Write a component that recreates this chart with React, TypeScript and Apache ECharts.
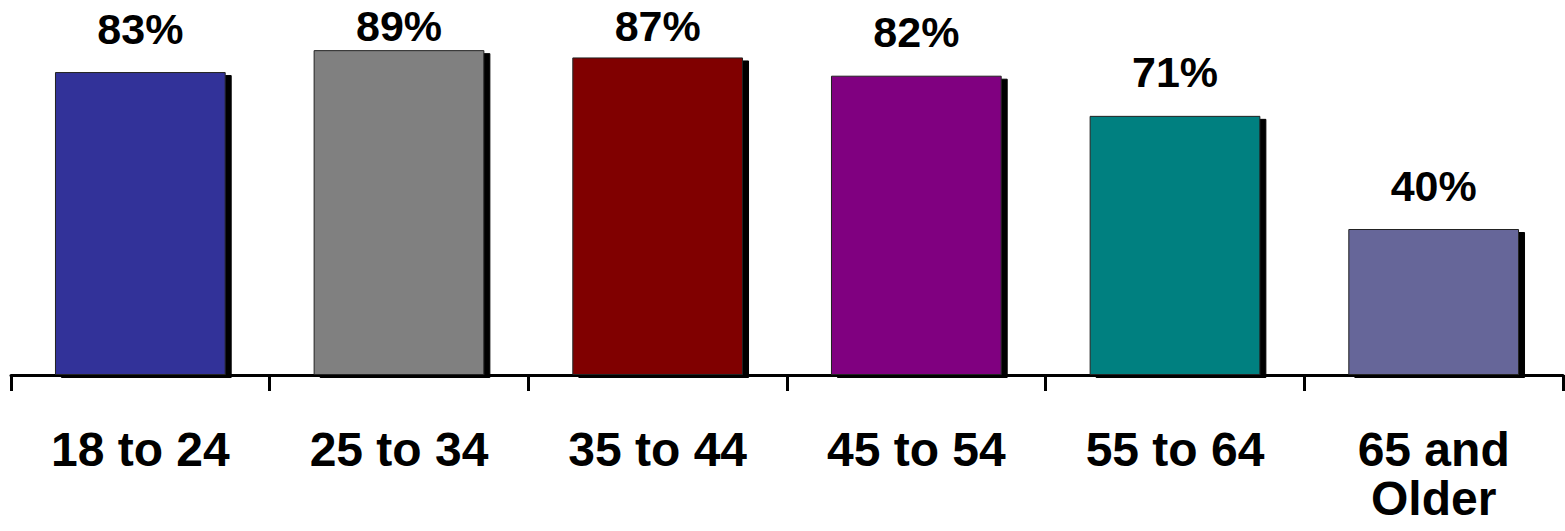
import React, { useEffect, useRef } from "react";
import * as echarts from "echarts";

const categories = ["18 to 24", "25 to 34", "35 to 44", "45 to 54", "55 to 64", "65 and\nOlder"];
const values = [83, 89, 87, 82, 71, 40];
const colors = ["#333399", "#808080", "#800000", "#800080", "#008080", "#666699"];

export default function App() {
  const ref = useRef<HTMLDivElement>(null);
  useEffect(() => {
    if (!ref.current) return;
    const chart = echarts.init(ref.current, null, { renderer: "svg" });
    const font = "'Liberation Sans', Arial, sans-serif";
    const MIN_LABEL_TOP = 4;
    chart.setOption({
      animation: false,
      backgroundColor: "#ffffff",
      grid: { left: 11, right: 2, top: 10, bottom: 156, containLabel: false },
      xAxis: {
        type: "category",
        data: categories,
        boundaryGap: true,
        axisLine: { show: true, lineStyle: { color: "#000", width: 3 } },
        axisTick: { show: true, length: 16, lineStyle: { color: "#000", width: 3 } },
        axisLabel: {
          interval: 0,
          margin: 50,
          color: "#000",
          fontFamily: font,
          fontWeight: "bold",
          fontSize: 48,
          lineHeight: 49,
        },
      },
      yAxis: {
        type: "value",
        min: 0,
        max: 100,
        show: false,
        splitLine: { show: false },
      },
      series: [
        {
          type: "bar",
          barWidth: "66%",
          data: values.map((v, i) => ({
            value: v,
            itemStyle: { color: colors[i] },
          })),
          itemStyle: {
            borderColor: "#222",
            borderWidth: 1,
            shadowColor: "#000",
            shadowBlur: 0,
            shadowOffsetX: 6,
            shadowOffsetY: 3,
          },
          label: {
            show: true,
            position: "top",
            distance: 22,
            formatter: "{c}%",
            color: "#000",
            fontFamily: font,
            fontWeight: "bold",
            fontSize: 43,
          },
          labelLayout: (p: any) => {
            const r = p.labelRect;
            if (r && r.y < MIN_LABEL_TOP) return { dy: MIN_LABEL_TOP - r.y };
            return {};
          },
        },
      ],
    });
    return () => chart.dispose();
  }, []);
  return (
    <div
      ref={ref}
      style={{ position: "fixed", left: 0, top: 0, width: 1565, height: 531 }}
    />
  );
}
